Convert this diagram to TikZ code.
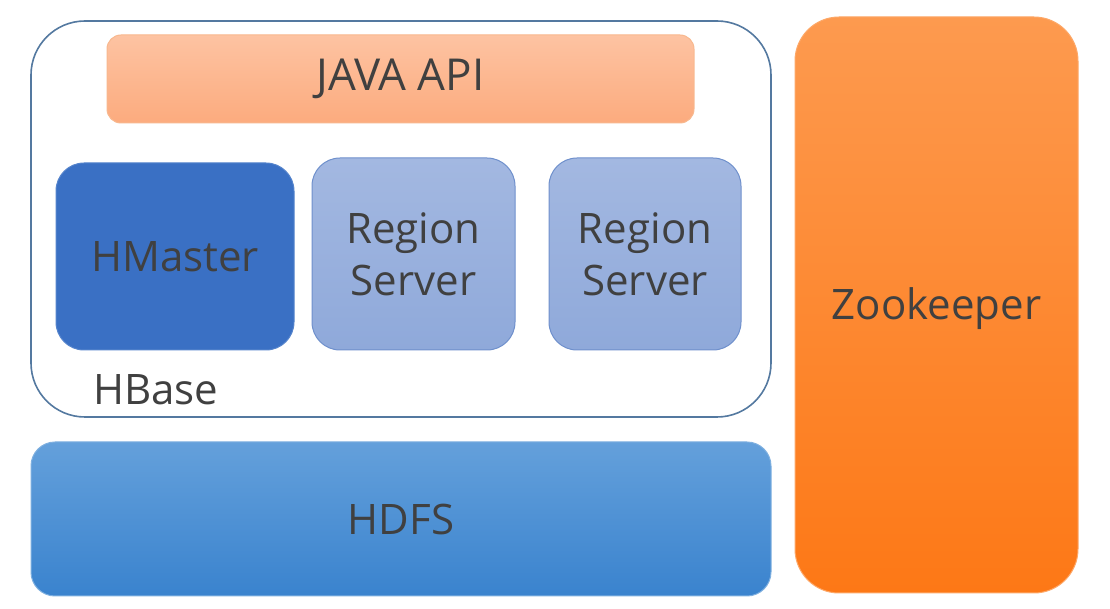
\documentclass[tikz,border=0pt]{standalone}
\usepackage{fontspec}
\setmainfont{Open Sans}
\definecolor{textgray}{HTML}{404040}
\definecolor{hbaseline}{HTML}{5479A0}
\definecolor{javatop}{HTML}{FDC3A2}
\definecolor{javabot}{HTML}{FCAB7E}
\definecolor{javaline}{HTML}{F8B88E}
\definecolor{hmfill}{HTML}{3A70C4}
\definecolor{hmline}{HTML}{5584CC}
\definecolor{rstop}{HTML}{A3B8E1}
\definecolor{rsbot}{HTML}{8FA9DA}
\definecolor{rsline}{HTML}{6F90CC}
\definecolor{hdfstop}{HTML}{64A0DB}
\definecolor{hdfsmid}{HTML}{4791DD}
\definecolor{hdfsbot}{HTML}{3A83CE}
\definecolor{hdfsline}{HTML}{7FB0E0}
\definecolor{zktop}{HTML}{FD9A4F}
\definecolor{zkbot}{HTML}{FD7816}
\definecolor{zkline}{HTML}{FDA868}
\begin{document}
\begin{tikzpicture}[x=0.5pt,y=-0.5pt,
  txt/.style={text=textgray, font=\fontsize{21}{26}\selectfont, align=center, inner sep=0pt},
  boxbase/.style={txt, draw, line width=0.5pt}]
\useasboundingbox[fill=white] (0,0) rectangle (1110,609);
% HBase container
\node[boxbase, draw=hbaseline, line width=0.8pt, rounded corners=27pt, fill=white,
      minimum width=370pt, minimum height=198pt] (hbase) at (401,219) {};
\node[txt, anchor=base west] (hbaselabel) at (93,405) {HBase};
% JAVA API
\node[boxbase, draw=javaline, rounded corners=7pt, top color=javatop, bottom color=javabot,
      minimum width=293.5pt, minimum height=44pt, font=\fontsize{22}{26}\selectfont] (java) at (400.5,79) {JAVA API};
% HMaster
\node[boxbase, draw=hmline, rounded corners=14pt, fill=hmfill,
      minimum width=119pt, minimum height=93.5pt] (hmaster) at (175,256.5) {HMaster};
% Region Servers
\node[boxbase, draw=rsline, rounded corners=14pt, top color=rstop, bottom color=rsbot,
      minimum width=101.5pt, minimum height=96pt] (rs1) at (413.5,254) {Region\\Server};
\node[boxbase, draw=rsline, rounded corners=14pt, top color=rstop, bottom color=rsbot,
      minimum width=96pt, minimum height=96pt] (rs2) at (645,254) {Region\\Server};
% HDFS
\node[boxbase, draw=hdfsline, rounded corners=12pt, top color=hdfstop, middle color=hdfsmid, bottom color=hdfsbot,
      minimum width=370pt, minimum height=77pt] (hdfs) at (401,519) {HDFS};
% Zookeeper
\node[boxbase, draw=zkline, rounded corners=22pt, top color=zktop, bottom color=zkbot,
      minimum width=141.5pt, minimum height=288pt] (zk) at (936.5,305) {};
\node[txt] (zklabel) at (936.5,309) {Zookeeper};
\end{tikzpicture}
\end{document}
